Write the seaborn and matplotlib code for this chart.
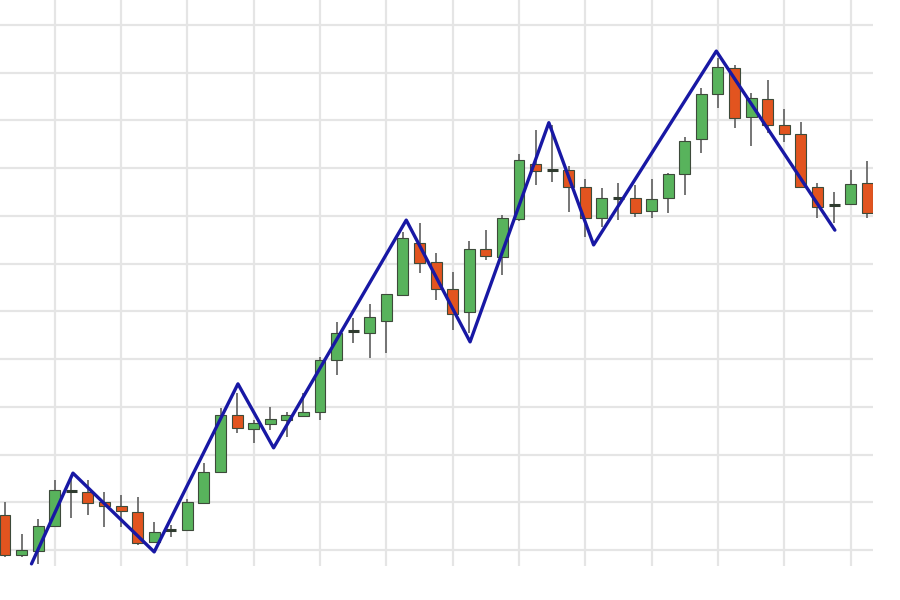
import numpy as np
import pandas as pd
import seaborn as sns
import matplotlib.pyplot as plt

# ==========================================
# DATA (price units)
# ==========================================
opens = [107.3, 99.0, 99.8, 105.0, 112.3, 112.2, 110.1, 109.2, 108.0, 101.7,
         104.2, 104.2, 109.8, 116.3, 128.3, 125.3, 126.4, 127.2, 128.1, 128.9,
         139.8, 145.9, 145.5, 148.0, 153.4, 164.3, 160.3, 154.7, 149.9, 163.1,
         161.4, 169.3, 180.9, 179.6, 179.6, 176.0, 169.6, 173.7, 173.7, 171.0,
         173.7, 178.8, 186.1, 195.5, 201.0, 190.7, 194.5, 189.0, 187.2, 176.0,
         172.3, 172.5, 176.9]
closes = [99.0, 100.0, 105.0, 112.6, 112.3, 109.8, 109.2, 108.2, 101.5, 103.8,
          104.2, 110.1, 116.3, 128.3, 125.6, 126.6, 127.4, 128.3, 128.9, 139.8,
          145.5, 145.9, 148.8, 153.6, 165.4, 160.1, 154.7, 149.4, 163.1, 161.6,
          169.6, 181.7, 179.4, 179.6, 176.0, 169.6, 173.7, 173.7, 170.6, 173.5,
          178.8, 185.7, 195.5, 201.2, 190.5, 194.7, 189.0, 187.2, 176.0, 171.9,
          172.3, 176.7, 170.6]
highs = [110.1, 103.4, 106.5, 114.7, 115.1, 114.7, 112.2, 111.5, 111.1, 105.9,
         105.2, 110.7, 118.2, 129.7, 132.9, 127.2, 130.0, 128.9, 132.9, 140.4,
         147.8, 148.6, 151.5, 153.6, 166.6, 168.5, 162.2, 158.2, 164.7, 167.0,
         170.2, 183.0, 188.0, 189.0, 180.4, 177.7, 175.8, 176.9, 176.5, 177.7,
         179.0, 186.5, 196.8, 203.1, 201.6, 195.7, 198.5, 192.4, 189.7, 176.9,
         175.0, 179.6, 181.5]
lows = [98.5, 98.5, 97.1, 104.8, 106.7, 107.3, 104.8, 104.8, 101.0, 101.5,
        102.7, 104.2, 109.8, 116.1, 124.5, 122.4, 125.1, 123.7, 127.9, 127.2,
        136.7, 143.4, 140.2, 141.3, 153.4, 158.0, 152.4, 146.1, 145.5, 160.8,
        157.6, 168.9, 176.5, 177.1, 170.8, 165.6, 167.7, 169.1, 169.8, 169.6,
        170.6, 174.4, 183.2, 192.6, 188.4, 184.6, 187.4, 185.5, 176.0, 169.6,
        168.5, 172.5, 169.6]

# zigzag pivots (bar position, price)
zz_bar = [1.6, 4.1, 9.0, 14.05, 16.2, 24.2, 28.05, 32.8, 35.5, 42.9, 50.05]
zz_price = [97.1, 116.1, 99.6, 134.8, 121.4, 169.1, 143.6, 189.5, 163.9, 204.5, 167.0]

df = pd.DataFrame({"open": opens, "high": highs, "low": lows, "close": closes})
df["bar"] = np.arange(len(df))
zz = pd.DataFrame({"bar": zz_bar, "price": zz_price})

# ==========================================
# PLOT
# ==========================================
sns.set_theme(style="whitegrid")
fig = plt.figure(figsize=(9, 6), dpi=100)
# plot area fills the picture except a white strip right and bottom
ax = fig.add_axes([0, 34 / 600, 873 / 900, 566 / 600])

up_col, down_col, doji_col = "#58b35c", "#e2541f", "#2f3b2f"
w = 0.66

for _, r in df.iterrows():
    if r["close"] > r["open"]:
        c = up_col
    elif r["close"] < r["open"]:
        c = down_col
    else:
        c = doji_col
    ax.vlines(r["bar"], r["low"], r["high"], color="#6a6a6a", lw=1.3, zorder=2)
    h = r["close"] - r["open"]
    if h == 0:
        ax.hlines(r["open"], r["bar"] - w / 2, r["bar"] + w / 2,
                  color=doji_col, lw=2.2, zorder=3)
    else:
        ax.bar(r["bar"], h, bottom=r["open"], width=w, color=c,
               edgecolor="#3d4a3a", linewidth=0.8, zorder=3)

sns.lineplot(data=zz, x="bar", y="price", ax=ax, color="#1818a4",
             linewidth=2.4, sort=False, zorder=4)

ax.set_xlim(-0.30, 52.35)
ax.set_ylim(96.65, 215.2)
ax.set_xticks(np.arange(3, 53, 4))
ax.set_yticks(np.arange(100, 220, 10))
ax.set_xticklabels([])
ax.set_yticklabels([])
ax.tick_params(length=0)
ax.set_xlabel("")
ax.set_ylabel("")
ax.grid(True, color="#e5e5e5", linewidth=1.6)
for s in ax.spines.values():
    s.set_visible(False)

fig.savefig("out.png", dpi=100, facecolor="white")
